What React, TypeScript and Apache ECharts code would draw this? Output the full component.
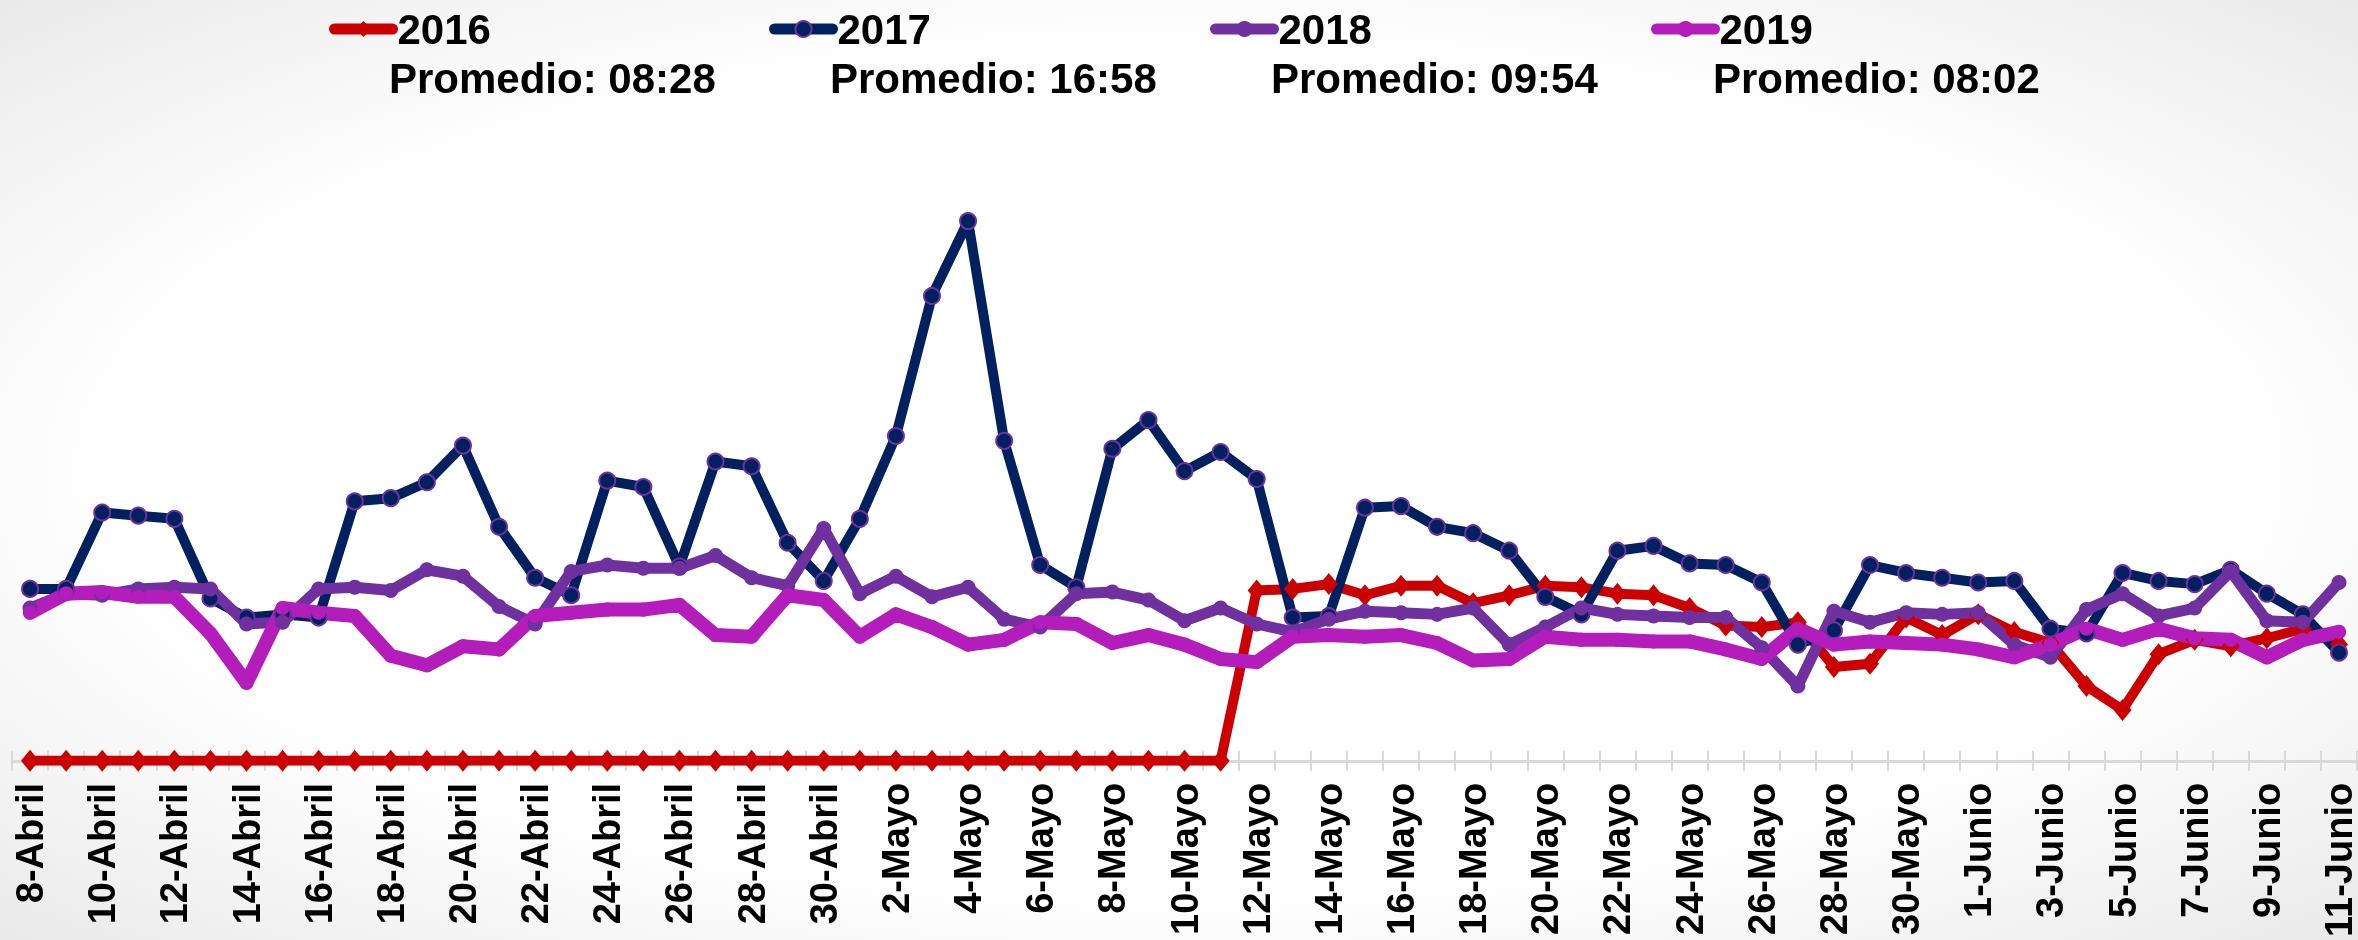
import React, { useEffect, useRef } from "react";
import * as echarts from "echarts";

const categories = [
  "8-Abril", "9-Abril", "10-Abril", "11-Abril", "12-Abril", "13-Abril", "14-Abril", "15-Abril",
  "16-Abril", "17-Abril", "18-Abril", "19-Abril", "20-Abril", "21-Abril", "22-Abril", "23-Abril",
  "24-Abril", "25-Abril", "26-Abril", "27-Abril", "28-Abril", "29-Abril", "30-Abril",
  "1-Mayo", "2-Mayo", "3-Mayo", "4-Mayo", "5-Mayo", "6-Mayo", "7-Mayo", "8-Mayo", "9-Mayo",
  "10-Mayo", "11-Mayo", "12-Mayo", "13-Mayo", "14-Mayo", "15-Mayo", "16-Mayo", "17-Mayo",
  "18-Mayo", "19-Mayo", "20-Mayo", "21-Mayo", "22-Mayo", "23-Mayo", "24-Mayo", "25-Mayo",
  "26-Mayo", "27-Mayo", "28-Mayo", "29-Mayo", "30-Mayo", "31-Mayo",
  "1-Junio", "2-Junio", "3-Junio", "4-Junio", "5-Junio", "6-Junio", "7-Junio", "8-Junio",
  "9-Junio", "10-Junio", "11-Junio",
];

const years = ["2016", "2017", "2018", "2019"];
const promedios = ["08:28", "16:58", "09:54", "08:02"];

// minutes
const s2016 = [
  0, 0, 0, 0, 0, 0, 0, 0, 0, 0, 0, 0, 0, 0, 0, 0, 0, 0, 0, 0, 0, 0, 0,
  0, 0, 0, 0, 0, 0, 0, 0, 0, 0, 0,
  10.7, 10.8, 11.1, 10.4, 11.0, 11.0, 9.9, 10.4, 11.0, 10.9, 10.5, 10.4, 9.6, 8.5, 8.4, 8.7,
  5.9, 6.1, 9.0, 7.9,
  9.2, 8.1, 7.4, 4.7, 3.2, 6.7, 7.6, 7.2, 7.7, 8.3, 7.3,
];
const s2017 = [
  10.8, 10.8, 15.6, 15.4, 15.2, 10.2, 9.0, 9.2, 9.0, 16.3, 16.5, 17.5, 19.8, 14.7, 11.5, 10.4,
  17.6, 17.2, 12.2, 18.8, 18.5, 13.7, 11.3,
  15.2, 20.4, 29.2, 33.9, 20.1, 12.3, 10.9, 19.6, 21.4, 18.2, 19.4, 17.7, 9.0, 9.1, 15.9, 16.0,
  14.7, 14.3, 13.2, 10.3, 9.2, 13.2, 13.5, 12.4, 12.3, 11.2, 7.3, 8.2, 12.3, 11.8, 11.5,
  11.2, 11.3, 8.3, 8.0, 11.8, 11.3, 11.1, 12.0, 10.5, 9.2, 6.8,
];
const s2018 = [
  9.6, 10.5, 10.4, 10.8, 10.9, 10.8, 8.6, 8.7, 10.8, 10.9, 10.7, 12.0, 11.6, 9.7, 8.6, 11.9,
  12.3, 12.1, 12.1, 12.9, 11.5, 11.0, 14.6,
  10.5, 11.6, 10.3, 10.9, 8.9, 8.4, 10.5, 10.6, 10.1, 8.8, 9.6, 8.6, 8.1, 8.9, 9.4, 9.3,
  9.2, 9.6, 7.3, 8.4, 9.6, 9.2, 9.1, 9.0, 9.0, 7.1, 4.7, 9.4, 8.7, 9.3, 9.2,
  9.3, 7.3, 6.5, 9.5, 10.5, 9.1, 9.6, 11.9, 8.8, 8.7, 11.2,
];
const s2019 = [
  9.3, 10.5, 10.6, 10.3, 10.3, 8.0, 4.9, 9.6, 9.3, 9.1, 6.6, 6.0, 7.2, 7.0, 9.1, 9.3,
  9.5, 9.5, 9.8, 7.9, 7.8, 10.4, 10.1,
  7.8, 9.2, 8.4, 7.3, 7.6, 8.7, 8.6, 7.4, 7.9, 7.3, 6.4, 6.2, 7.8, 7.9, 7.8, 7.9,
  7.4, 6.3, 6.4, 7.8, 7.6, 7.6, 7.5, 7.5, 7.0, 6.4, 8.3, 7.3, 7.5, 7.4, 7.3,
  7.0, 6.5, 7.3, 8.3, 7.6, 8.3, 7.7, 7.6, 6.5, 7.6, 8.1,
];

const FONT = "'Liberation Sans', Arial, sans-serif";

export default function App() {
  const ref = useRef<HTMLDivElement>(null);

  useEffect(() => {
    if (!ref.current) return;
    const chart = echarts.init(ref.current, undefined, { renderer: "svg" });

    const colors = ["#CC0000", "#002060", "#7030A0", "#B41CBC"];
    const legendLefts = [329, 769, 1210, 1651];
    const textLefts = [389, 830, 1271, 1713];

    const option: any = {
      animation: false,
      backgroundColor: "transparent",
      grid: { left: 12, right: 0, top: 124, bottom: 176, containLabel: false },
      legend: years.map((y, k) => ({
        data: [y],
        left: legendLefts[k],
        top: 8,
        padding: 0,
        itemWidth: 58,
        itemHeight: 20,
        itemGap: 0,
        lineStyle: { width: 11, cap: "round" },
        textStyle: { fontSize: 42, fontWeight: "bold", color: "#000", fontFamily: FONT },
      })),
      graphic: [
        {
          type: "rect",
          z: -100,
          silent: true,
          shape: { x: 0, y: 0, width: 2358, height: 940 },
          style: {
            fill: new echarts.graphic.RadialGradient(0.5, 0.5, 0.75, [
              { offset: 0, color: "#ffffff" },
              { offset: 0.6, color: "#ffffff" },
              { offset: 1, color: "#e6e6e6" },
            ]),
          },
        },
        ...promedios.map((p, k) => ({
          type: "text",
          left: textLefts[k],
          top: 57,
          style: {
            text: "Promedio: " + p,
            fontSize: 42,
            fontWeight: "bold",
            fontFamily: FONT,
            fill: "#000",
          },
        })),
      ],
      xAxis: [
        {
          type: "category",
          data: categories,
          boundaryGap: true,
          axisLine: { show: true, lineStyle: { color: "#d9d9d9", width: 3 } },
          axisTick: { show: true, interval: 0, length: 10, lineStyle: { color: "#d9d9d9", width: 2 } },
          axisLabel: {
            interval: 1,
            rotate: 90,
            margin: 22,
            fontSize: 38,
            fontWeight: "bold",
            color: "#000",
            fontFamily: FONT,
          },
          splitLine: { show: false },
        },
        {
          type: "category",
          data: categories,
          boundaryGap: true,
          position: "bottom",
          axisLine: { show: false },
          axisTick: { show: true, inside: true, interval: 0, length: 10, lineStyle: { color: "#d9d9d9", width: 2 } },
          axisLabel: { show: false },
          splitLine: { show: false },
        },
      ],
      yAxis: {
        type: "value",
        min: 0,
        max: 40,
        show: false,
        splitLine: { show: false },
      },
      series: [
        {
          name: "2016",
          type: "line",
          data: s2016,
          symbol: "diamond",
          symbolSize: [18, 22],
          lineStyle: { color: colors[0], width: 10, cap: "round", join: "round" },
          itemStyle: { color: colors[0] },
        },
        {
          name: "2017",
          type: "line",
          data: s2017,
          symbol: "circle",
          symbolSize: 16,
          lineStyle: { color: colors[1], width: 10, cap: "round", join: "round" },
          itemStyle: { color: colors[1], borderColor: "#7030A0", borderWidth: 2 },
        },
        {
          name: "2018",
          type: "line",
          data: s2018,
          symbol: "circle",
          symbolSize: 15,
          lineStyle: { color: colors[2], width: 11, cap: "round", join: "round" },
          itemStyle: { color: colors[2] },
        },
        {
          name: "2019",
          type: "line",
          data: s2019,
          symbol: "circle",
          symbolSize: 14,
          lineStyle: { color: colors[3], width: 14, cap: "round", join: "round" },
          itemStyle: { color: colors[3] },
        },
      ],
    };

    chart.setOption(option);
    return () => chart.dispose();
  }, []);

  return (
    <div
      ref={ref}
      style={{ position: "fixed", left: 0, top: 0, width: 2358, height: 940 }}
    />
  );
}
